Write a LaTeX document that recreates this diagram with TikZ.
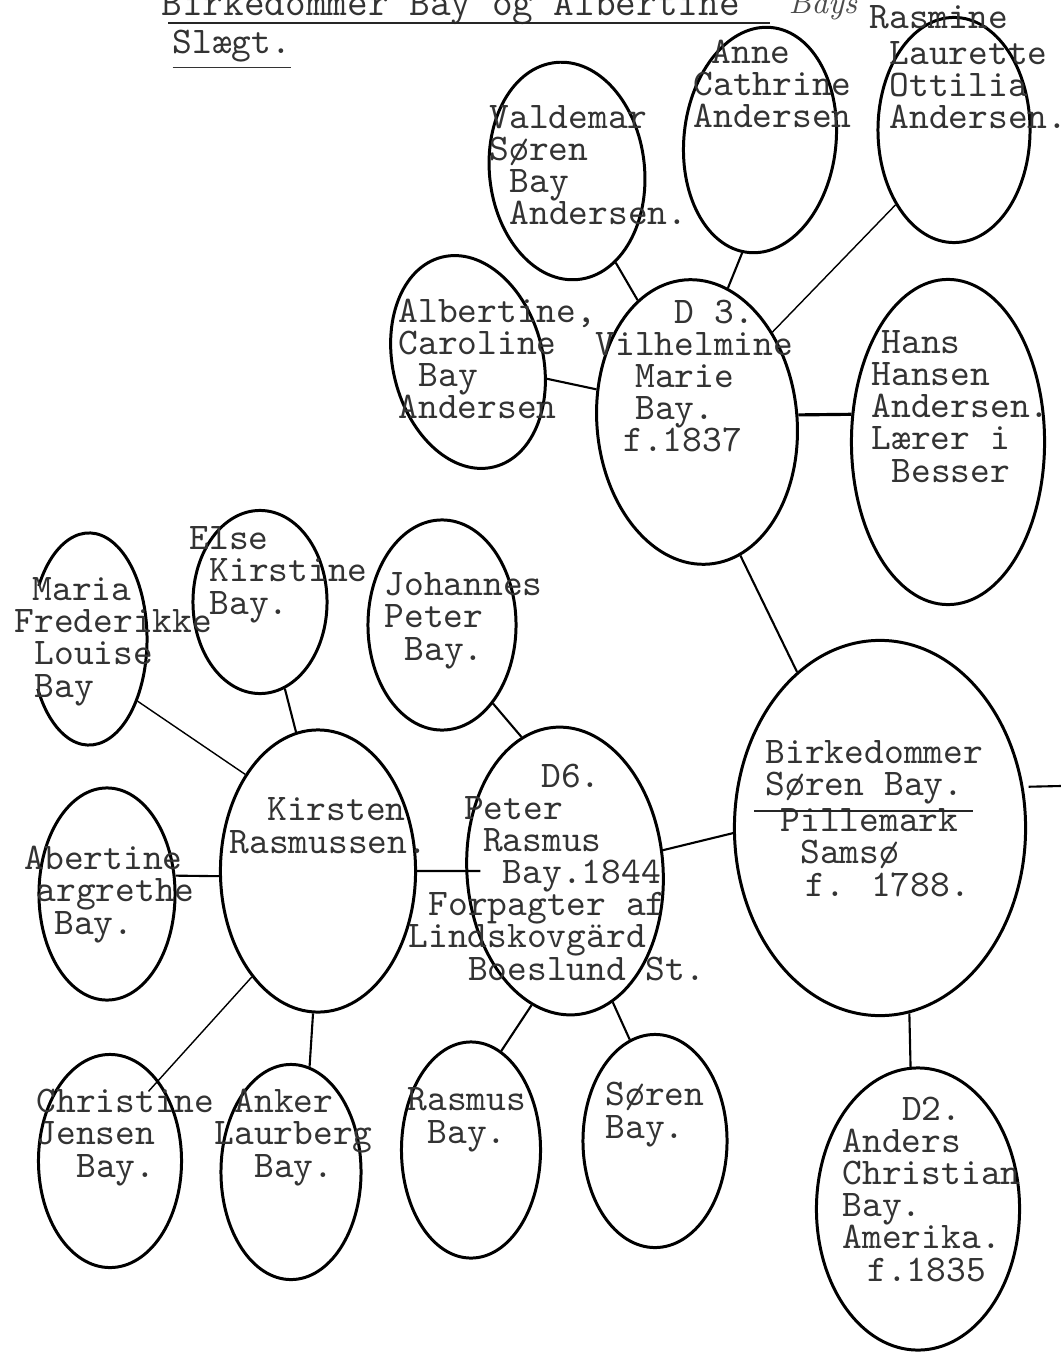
\documentclass[tikz,border=0pt]{standalone}
\usetikzlibrary{shapes.geometric}
\newlength\chw
\setlength\chw{0.198cm}
\newcommand\ind[1]{\hspace*{#1\chw}}
\tikzset{
  person/.style={ellipse, draw=black, line width=0.85pt, inner sep=0pt},
  typed/.style={font=\ttfamily\fontsize{10.7pt}{9.14pt}\selectfont,
    text=black!80, align=left, anchor=base west, inner sep=0pt},
  link/.style={draw=black, line width=0.6pt},
  thinlink/.style={draw=black, line width=0.4pt},
  uline/.style={draw=black!85, line width=0.8pt},
}

\begin{document}
\setlength{\lineskiplimit}{-20pt}
\begin{tikzpicture}[x=0.01cm, y=-0.01cm]
  \useasboundingbox (0,0) rectangle (1061,1352);

  % title (base = last line)
  \node[typed, font=\ttfamily\fontsize{11.4pt}{11pt}\selectfont] (title) at (161,16)
    {Birkedommer Bay og Albertine};
  \node[anchor=base west, inner sep=0pt, text=black!70,
    font=\itshape\fontsize{9pt}{9pt}\selectfont] (bays) at (788,14) {Bays};
  \node[typed] (slaegt) at (172,54) {\underline{Slægt.}};
  \draw[uline] ([shift={(7,7)}]title.base west) -- ++(602,0);

  % ellipses
  \node[person, minimum width=1.55cm, minimum height=2.18cm, rotate=6] (valdemar) at (567,171) {};
  \node[person, minimum width=1.52cm, minimum height=2.26cm, rotate=-6] (anne) at (760,140) {};
  \node[person, minimum width=1.52cm, minimum height=2.25cm] (rasmine) at (954,130) {};
  \node[person, minimum width=1.50cm, minimum height=2.16cm, rotate=14] (albcar) at (468,362) {};
  \node[person, minimum width=2.00cm, minimum height=2.85cm, rotate=5] (vilh) at (697,422) {};
  \node[person, minimum width=1.93cm, minimum height=3.25cm] (hans) at (948,442) {};
  \node[person, minimum width=2.91cm, minimum height=3.75cm] (birke) at (880,828) {};
  \node[person, minimum width=2.03cm, minimum height=2.82cm] (d2) at (918,1209) {};
  \node[person, minimum width=1.96cm, minimum height=2.88cm, rotate=4] (peter) at (565,871) {};
  \node[person, minimum width=1.48cm, minimum height=2.10cm] (johannes) at (442,625) {};
  \node[person, minimum width=1.95cm, minimum height=2.82cm] (kirsten) at (318,871) {};
  \node[person, minimum width=1.34cm, minimum height=1.83cm] (else) at (260,602) {};
  \node[person, draw=none, minimum width=1.16cm, minimum height=2.12cm] (maria) at (89,639) {};
  \node[person, minimum width=1.36cm, minimum height=2.12cm] (albmar) at (107,894) {};
  \node[person, minimum width=1.43cm, minimum height=2.13cm] (christine) at (110,1161) {};
  \node[person, minimum width=1.40cm, minimum height=2.15cm] (anker) at (291,1172) {};
  \node[person, minimum width=1.39cm, minimum height=2.16cm] (rasmus) at (471,1150) {};
  \node[person, minimum width=1.44cm, minimum height=2.13cm] (soren) at (655,1141) {};
  % Maria's ellipse is open on the left
  \draw[line width=0.85pt] ([shift={(150:0.58cm and 1.06cm)}]maria.center)
    arc[start angle=150, end angle=-152, x radius=0.58cm, y radius=1.06cm];

  % names, placed at the baseline of their last line
  \node[typed] (valdemartxt) at (489,225) {Valdemar\\Søren\\\ind{1}Bay\\\ind{1}Andersen.};
  \node[typed] (annetxt) at (693,128) {\ind{0.9}Anne\\Cathrine\\Andersen};
  \node[typed] (rasminetxt) at (869,129) {Rasmine\\[0.04cm]\ind{1}Laurette\\\ind{1}Ottilia\\\ind{1}Andersen.};
  \node[typed] (albcartxt) at (398,419) {Albertine,\\Caroline\\\ind{1}Bay\\Andersen};
  \node[typed] (vilhtxt) at (595,452) {\ind{4}D 3.\\Vilhelmine\\\ind{2}Marie\\\ind{2}Bay.\\\ind{1.4}f.1837};
  \node[typed] (hanstxt) at (871,482) {\ind{0.5}Hans\\Hansen\\Andersen.\\Lærer i\\\ind{1}Besser};
  \node[typed] (birketxt) at (765,896) {Birkedommer\\Søren Bay.\\[0.04cm]\ind{0.75}Pillemark\\\ind{1.75}Samsø\\\ind{2}f. 1788.};
  \node[typed] (d2txt) at (842,1281) {\ind{3}D2.\\Anders\\Christian\\Bay.\\Amerika.\\\ind{1.25}f.1835};
  \node[typed] (petertxt) at (408,980) {\ind{6.7}D6.\\\ind{2.8}Peter\\\ind{3.75}Rasmus\\\ind{4.75}Bay.1844\\\ind{1}Forpagter af\\Lindskovgärd\\\ind{3}Boeslund St.};
  \node[typed] (johannestxt) at (384,660) {Johannes\\Peter\\\ind{1}Bay.};
  \node[typed] (kirstentxt) at (229,853) {\ind{1.9}Kirsten\\Rasmussen.};
  \node[typed] (elsetxt) at (189,614) {Else\\\ind{1}Kirstine\\\ind{1}Bay.};
  \node[typed] (mariatxt) at (14,697) {\ind{0.9}Maria\\Frederikke\\\ind{1}Louise\\\ind{1}Bay};
  \node[typed] (albmartxt) at (24,934) {Abertine\\\ind{0.6}argrethe\\\ind{1.5}Bay.};
  \node[typed] (christinetxt) at (36,1177) {Christine\\Jensen\\\ind{2}Bay.};
  \node[typed] (ankertxt) at (214,1177) {\ind{1}Anker\\Laurberg\\\ind{2}Bay.};
  \node[typed] (rasmustxt) at (407,1143) {Rasmus\\\ind{1}Bay.};
  \node[typed] (sorentxt) at (605,1138) {Søren\\Bay.};

  \draw[uline] ([shift={(-11,-85)}]birketxt.base west) -- ++(219,0);

  \coordinate (edge) at (1061,786);

  % lines
  \draw[link] (valdemar.-68) -- (vilh.111);
  \draw[link] (anne.-93) -- (vilh.72);
  \draw[thinlink] (rasmine.-128) -- (vilh.45);
  \draw[link] (albcar.-26) -- (vilh.157);
  \draw[link, line width=0.9pt] (vilh.-1) -- (hans.164);
  \draw[link] (vilh.-77) -- (birke.118);
  \draw[link, shorten <=0.05cm] (birke.16) -- (edge);
  \draw[link] (birke.-81) -- (d2.93);
  \draw[link] (birke.182) -- (peter.8);
  \draw[link] (johannes.-57) -- (peter.104);
  \draw[link, shorten >=-0.15cm] (kirsten.east) -- (peter.176);
  \draw[link] (else.-74) -- (kirsten.99);
  \draw[thinlink] (maria.-52) -- (kirsten.127);
  \draw[link] (albmar.15) -- (kirsten.183);
  \draw[thinlink, shorten >=-0.15cm] (kirsten.-122) -- (christine.59);
  \draw[link] (kirsten.-92) -- (anker.80);
  \draw[link] (peter.-108) -- (rasmus.73);
  \draw[link] (peter.-74) -- (soren.104);
\end{tikzpicture}
\end{document}
